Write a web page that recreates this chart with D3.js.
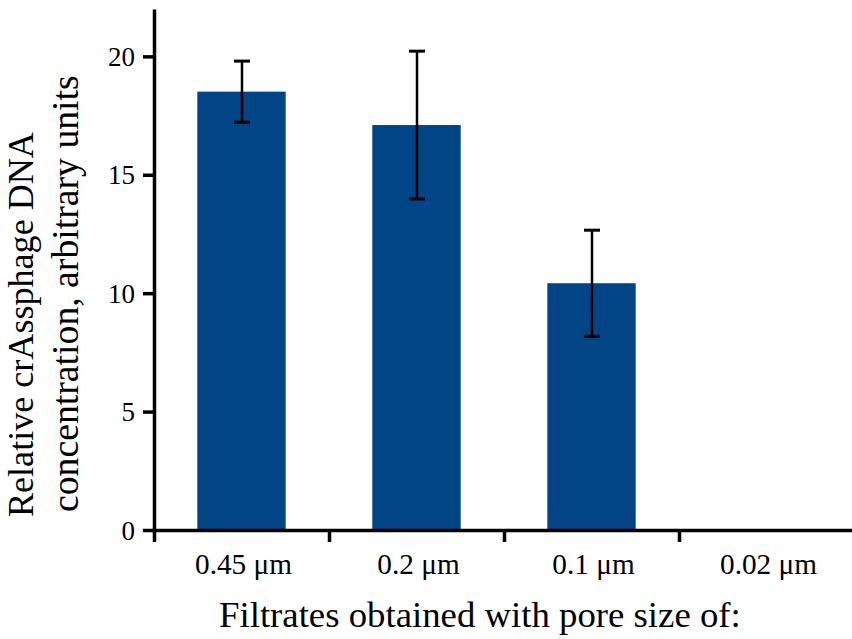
<!DOCTYPE html>
<html>
<head>
<meta charset="utf-8">
<script src="https://cdn.jsdelivr.net/npm/d3@7"></script>
<style>
  html, body { margin: 0; padding: 0; background: #fff; }
  svg { display: block; }
  text { font-family: "Liberation Serif", "DejaVu Serif", serif; fill: #000; }
</style>
</head>
<body>
<svg id="chart" width="852" height="639"></svg>
<script>
// ---- data ----
const categories = ["0.45 μm", "0.2 μm", "0.1 μm", "0.02 μm"];
const means = [18.51, 17.1, 10.42, 0];
const errors = [1.29, 3.12, 2.24, 0];
const yTicks = [0, 5, 10, 15, 20];
const xTitle = "Filtrates obtained with pore size of:";
const yTitleLines = ["Relative crAssphage DNA", "concentration, arbitrary units"];

const svg = d3.select("#chart");
const W = 852, H = 639;
const x0 = 154, x1 = 854, yBase = 530, yTop = 9;

const x = d3.scaleBand().domain(categories).range([x0, x1])
  .paddingInner(0.495).paddingOuter(0.2475);
const xEdge = d3.scaleLinear().domain([0, categories.length]).range([x0, x1]);
const y = d3.scaleLinear().domain([0, 22]).range([yBase, yTop]);

function fit(sel, target) {
  const base = 20;
  sel.attr("font-size", base);
  const w = sel.node().getComputedTextLength();
  const fs = base * target / w;
  sel.attr("font-size", fs);
  return fs;
}

// bars
const data = categories.map((c, i) => ({ c, m: means[i], e: errors[i] }));
svg.append("g").selectAll("rect").data(data.filter(d => d.m > 0)).join("rect")
  .attr("x", d => x(d.c))
  .attr("y", d => y(d.m))
  .attr("width", x.bandwidth())
  .attr("height", d => y(0) - y(d.m))
  .attr("fill", "#024587");

// error bars
const eg = svg.append("g").attr("stroke", "#000").attr("stroke-width", 2.5);
data.filter(d => d.e > 0).forEach(d => {
  const cx = x(d.c) + x.bandwidth() / 2 + 0.5;
  eg.append("line").attr("x1", cx).attr("x2", cx).attr("y1", y(d.m + d.e)).attr("y2", y(d.m - d.e));
  eg.append("line").attr("x1", cx - 8).attr("x2", cx + 8).attr("y1", y(d.m + d.e)).attr("y2", y(d.m + d.e)).attr("stroke-width", 3);
  eg.append("line").attr("x1", cx - 8).attr("x2", cx + 8).attr("y1", y(d.m - d.e)).attr("y2", y(d.m - d.e)).attr("stroke-width", 3);
});

// y axis
const yAxis = svg.append("g").attr("transform", `translate(${x0},0)`)
  .call(d3.axisLeft(y).tickValues(yTicks).tickSize(11).tickSizeOuter(0).tickPadding(8));
yAxis.select(".domain").attr("stroke", "#000").attr("stroke-width", 3.5);
yAxis.selectAll(".tick line").attr("stroke", "#000").attr("stroke-width", 3.5);
yAxis.selectAll(".tick text").attr("font-family", null).attr("dy", "0.34em");
let yfs = 0;
yAxis.selectAll(".tick text").each(function(d) { if (d === 20) yfs = fit(d3.select(this), 27); });
yAxis.selectAll(".tick text").attr("font-size", yfs);
yAxis.attr("font-size", yfs);

// x axis (ticks at category boundaries)
const xAxis = svg.append("g").attr("transform", `translate(0,${yBase})`)
  .call(d3.axisBottom(xEdge).tickValues(d3.range(categories.length)).tickSize(12).tickSizeOuter(0).tickFormat(""));
xAxis.select(".domain").attr("stroke", "#000").attr("stroke-width", 3.5).attr("d", `M${x0 - 1.75},0.5H${W + 5}`);
xAxis.selectAll(".tick line").attr("stroke", "#000").attr("stroke-width", 3.5);

// x category labels
const xl = svg.append("g").selectAll("text").data(categories).join("text")
  .attr("x", d => x(d) + x.bandwidth() / 2 + 2)
  .attr("y", 574)
  .attr("text-anchor", "middle")
  .text(d => d);
const xfs = fit(d3.select(xl.nodes()[0]), 97);
xl.attr("font-size", xfs);

// x title
const xt = svg.append("text").attr("x", 219).attr("y", 627).attr("text-anchor", "start").text(xTitle);
fit(xt, 522);

// y title (two lines)
const yt1 = svg.append("text").attr("transform", "translate(33,517) rotate(-90)").attr("text-anchor", "start").text(yTitleLines[0]);
fit(yt1, 385);
const yt2 = svg.append("text").attr("transform", "translate(78,512) rotate(-90)").attr("text-anchor", "start").text(yTitleLines[1]);
fit(yt2, 437);
</script>
</body>
</html>
